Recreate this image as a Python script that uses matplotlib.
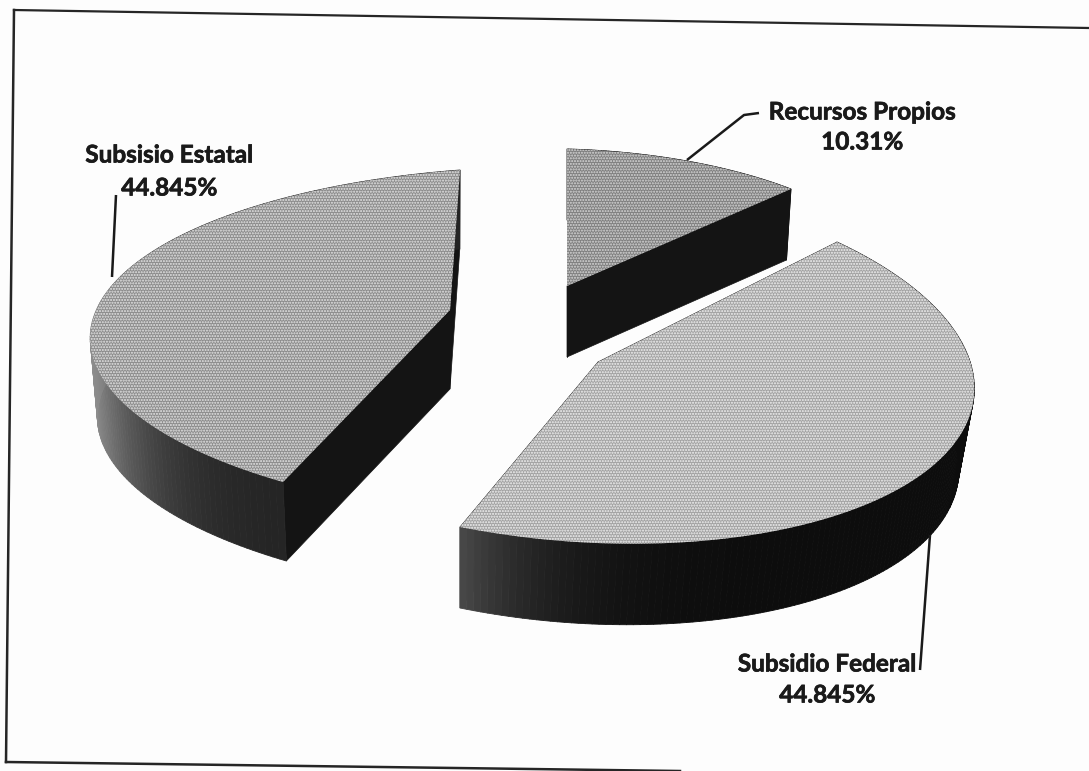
import numpy as np
import matplotlib
matplotlib.use("Agg")
import matplotlib.pyplot as plt
from matplotlib.patches import Polygon
from matplotlib.collections import PolyCollection
import matplotlib.patheffects as pe

# ---- data ----
labels = ["Recursos Propios", "Subsidio Federal", "Subsisio Estatal"]
values = [10.31, 44.845, 44.845]
value_labels = ["10.31%", "44.845%", "44.845%"]

plt.rcParams["hatch.linewidth"] = 1.0
W, H = 1089, 771
fig = plt.figure(figsize=(W / 100, H / 100), dpi=100, facecolor="#fdfdfd")
ax = fig.add_axes([0, 0, 1, 1])
ax.set_xlim(0, W)
ax.set_ylim(H, 0)
ax.axis("off")

# ---- layout of each exploded slice in the scanned perspective view ----
# apex, arc start, arc middle, arc end (pixels); lower rim narrows toward pivot_x
layout = {
    "Recursos Propios": dict(apex=(567, 286), start=(567, 149), mid=(687, 161), end=(791, 189),
                             depth=71, pivot_x=567, rim=0.98,
                             top="#7f7f7f", dots="#d8d8d8", wall=(0.08, 0.08)),
    "Subsidio Federal": dict(apex=(598, 362), start=(837, 242), mid=(930, 468), end=(460, 527),
                             depth=81, pivot_x=460, rim=0.97,
                             top="#a2a2a2", dots="#f2f2f2", wall=(0.05, 0.28)),
    "Subsisio Estatal": dict(apex=(450, 310), start=(283, 482), mid=(110, 288), end=(460, 170),
                             depth=79, pivot_x=450, rim=0.98,
                             top="#8c8c8c", dots="#e6e6e6", wall=(0.14, 0.55)),
}


def homography(src, dst):
    A, b = [], []
    for (x, y), (u, v) in zip(src, dst):
        A.append([x, y, 1, 0, 0, 0, -u * x, -u * y]); b.append(u)
        A.append([0, 0, 0, x, y, 1, -v * x, -v * y]); b.append(v)
    h = np.linalg.solve(np.array(A, float), np.array(b, float))
    return np.append(h, 1).reshape(3, 3)


def project(M, xy):
    p = np.column_stack([xy, np.ones(len(xy))]) @ M.T
    return p[:, :2] / p[:, 2:]


for name, val in zip(labels, values):
    g = layout[name]
    sweep = 2 * np.pi * val / sum(values)
    unit = lambda a: np.array([np.cos(a), np.sin(a)])
    M = homography([(0, 0), unit(0), unit(sweep / 2), unit(sweep)],
                   [g["apex"], g["start"], g["mid"], g["end"]])
    phi = np.linspace(0, sweep, 160)
    arc = project(M, np.column_stack([np.cos(phi), np.sin(phi)]))
    apex = np.array(g["apex"], float)

    def lower(p):
        p = np.asarray(p, float)
        q = p.copy()
        q[..., 0] = g["pivot_x"] + g["rim"] * (p[..., 0] - g["pivot_x"])
        q[..., 1] = p[..., 1] + g["depth"]
        return q

    low = lower(arc)
    # radial faces
    for edge, edge_low in ((arc[0], low[0]), (arc[-1], low[-1])):
        ax.add_patch(Polygon([apex, edge, edge_low, lower(apex)], closed=True,
                             facecolor="#141414", edgecolor="#141414", lw=0.5, zorder=2))
    # outer wall, shaded across its length
    quads = [[arc[i], arc[i + 1], low[i + 1], low[i]] for i in range(len(arc) - 1)]
    xs = arc[:-1, 0]
    t = (xs.max() - xs) / max(xs.max() - xs.min(), 1)
    shade = g["wall"][0] + (g["wall"][1] - g["wall"][0]) * t ** 6
    ax.add_collection(PolyCollection(quads, facecolors=[(s, s, s) for s in shade],
                                     edgecolors=[(s, s, s) for s in shade], linewidths=0.6, zorder=3))
    # top face with scanned stipple
    outline = np.vstack([apex, arc])
    ax.add_patch(Polygon(outline, closed=True, facecolor=g["top"], edgecolor="none", zorder=4))
    ax.add_patch(Polygon(outline, closed=True, facecolor="none", edgecolor=g["dots"],
                         hatch="......", lw=0, zorder=5))

# ---- leader lines ----
leaders = [
    ([687, 744, 759], [160, 115, 113]),
    ([930, 920], [535, 670]),
    ([116, 112], [195, 277]),
]
for lx, ly in leaders:
    ax.plot(lx, ly, color="#1a1a1a", lw=1.8, zorder=6, solid_capstyle="butt")

# ---- labels ----
label_pos = {
    "Recursos Propios": (862, 112, 142),
    "Subsidio Federal": (827, 664, 695),
    "Subsisio Estatal": (169, 155, 188),
}
stroke = [pe.withStroke(linewidth=0.5, foreground="#1a1a1a")]
for name, vl in zip(labels, value_labels):
    x, y1, y2 = label_pos[name]
    for text, y in ((name, y1), (vl, y2)):
        ax.text(x, y, text, ha="center", va="center", fontsize=17.5, fontweight="bold",
                family="Lato", color="#1a1a1a", zorder=7, path_effects=stroke)

# ---- page frame ----
ax.plot([14, 1089], [10, 28], color="#262626", lw=1.6)
ax.plot([14, 6], [10, 762], color="#262626", lw=1.8)
ax.plot([6, 680], [762, 771], color="#262626", lw=1.8)

fig.savefig("out.png", dpi=100, facecolor=fig.get_facecolor())
